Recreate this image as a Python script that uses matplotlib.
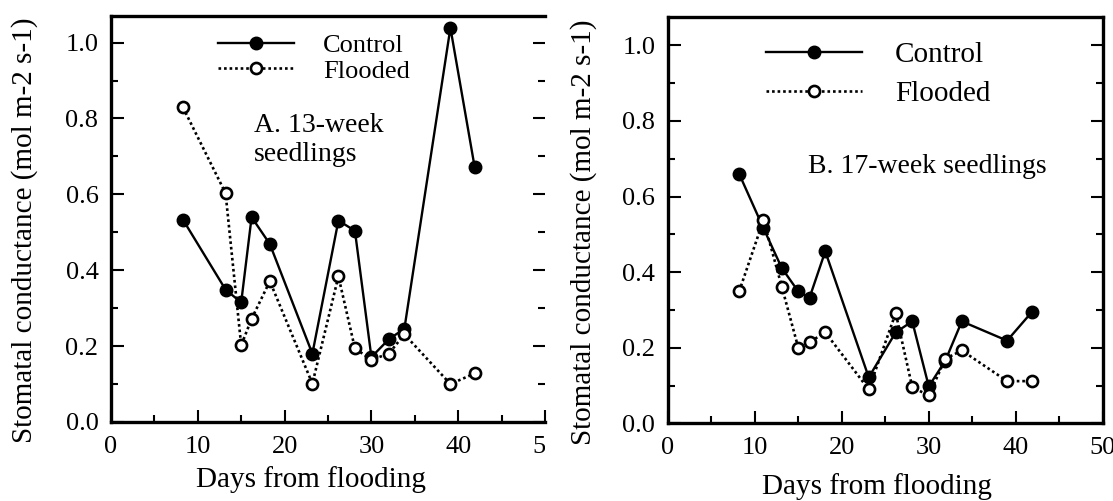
import matplotlib
matplotlib.use('Agg')
import matplotlib.pyplot as plt
from matplotlib.ticker import MultipleLocator, FormatStrFormatter
from matplotlib.transforms import Bbox, TransformedBbox

# A. 13-week seedlings
days_a = [8.3, 13.2, 15.0, 16.2, 18.3, 23.2, 26.2, 28.1, 30.0, 32.0, 33.8, 39.1, 41.9]
control_a = [0.533, 0.349, 0.315, 0.540, 0.469, 0.180, 0.531, 0.504, 0.171, 0.218, 0.246, 1.039, 0.671]
flooded_a = [0.829, 0.603, 0.202, 0.272, 0.371, 0.101, 0.384, 0.194, 0.164, 0.180, 0.231, 0.100, 0.128]

# B. 17-week seedlings
days_b = [8.2, 11.0, 13.1, 15.0, 16.3, 18.1, 23.1, 26.2, 28.1, 30.0, 31.9, 33.8, 39.0, 41.9]
control_b = [0.660, 0.516, 0.411, 0.349, 0.333, 0.455, 0.122, 0.241, 0.270, 0.098, 0.166, 0.270, 0.219, 0.296]
flooded_b = [0.349, 0.538, 0.362, 0.200, 0.215, 0.241, 0.090, 0.292, 0.096, 0.074, 0.171, 0.193, 0.112, 0.112]

plt.rcParams['font.family'] = ['Liberation Serif', 'DejaVu Serif']

fig = plt.figure(figsize=(11.13, 5.01), dpi=100)
ax1 = fig.add_axes([0.0997, 0.1577, 0.390, 0.811])
ax2 = fig.add_axes([0.600, 0.1547, 0.3908, 0.811])


def draw_panel(ax, days, control, flooded, ymax):
    ax.plot(days, control, color='black', lw=1.7, marker='o', ms=9,
            mfc='black', mec='black', label='Control', zorder=3)
    ax.plot(days, flooded, color='black', lw=1.9, ls=(0, (1, 1.1)), marker='o', ms=8,
            mfc='white', mec='black', mew=1.9, label='Flooded', zorder=4)
    ax.set_xlim(0, 50)
    ax.set_ylim(0, ymax)
    ax.xaxis.set_major_locator(MultipleLocator(10))
    ax.xaxis.set_minor_locator(MultipleLocator(5))
    ax.yaxis.set_major_locator(MultipleLocator(0.2))
    ax.yaxis.set_minor_locator(MultipleLocator(0.1))
    ax.yaxis.set_major_formatter(FormatStrFormatter('%.1f'))
    ax.tick_params(which='both', direction='in', top=False, right=True, width=1.5, labelsize=19)
    ax.tick_params(which='major', length=9)
    ax.tick_params(which='minor', length=5)
    ax.tick_params(axis='x', pad=10)
    ax.tick_params(axis='y', pad=9)
    for s in ax.spines.values():
        s.set_linewidth(2.4)
    ax.set_xlabel('Days from flooding', fontsize=21, va='top')
    ax.set_ylabel('Stomatal conductance (mol m-2 s-1)', fontsize=21)


draw_panel(ax1, days_a, control_a, flooded_a, 1.071)
draw_panel(ax2, days_b, control_b, flooded_b, 1.074)

ax1.spines['right'].set_visible(False)
ax1.xaxis.set_label_coords(0.46, -0.108)
ax1.yaxis.set_label_coords(-0.168, 0.473)
ax2.xaxis.set_label_coords(0.48, -0.122)
ax2.yaxis.set_label_coords(-0.163, 0.471)

ax1.legend(loc='upper left', bbox_to_anchor=(0.2465, 0.956), frameon=False, fontsize=19,
           handlelength=2.9, handletextpad=1.08, labelspacing=0.08, borderpad=0,
           borderaxespad=0, numpoints=1)
ax2.legend(loc='upper left', bbox_to_anchor=(0.225, 0.94), frameon=False, fontsize=21,
           handlelength=3.3, handletextpad=1.14, labelspacing=0.43, borderpad=0,
           borderaxespad=0, numpoints=1)

ax1.text(16.5, 0.815, 'A. 13-week\nseedlings', fontsize=20, va='top', ha='left', linespacing=1.2)
ax2.text(16.1, 0.678, 'B. 17-week seedlings', fontsize=20, va='center', ha='left')

# left panel's x labels stop where the right panel begins
clip = TransformedBbox(Bbox([[0, 0], [545 / 1113, 1]]), fig.transFigure)
for lab in ax1.get_xticklabels():
    lab.set_clip_box(clip)
    lab.set_clip_on(True)

fig.savefig('out.png', dpi=100)
